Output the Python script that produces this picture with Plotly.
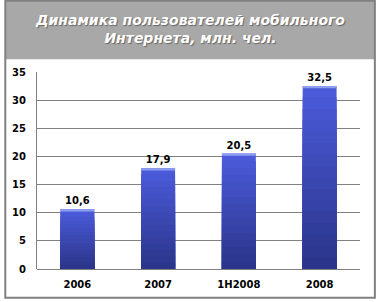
import plotly.graph_objects as go

categories = ["2006", "2007", "1H2008", "2008"]
values = [10.6, 17.9, 20.5, 32.5]
labels = ["10,6", "17,9", "20,5", "32,5"]
y_ticks = [0, 5, 10, 15, 20, 25, 30, 35]

TITLE = "Динамика пользователей мобильного<br>Интернета, млн. чел."

top_rgb = (76, 92, 220)
bot_rgb = (42, 52, 136)
N = 16

fig = go.Figure()
for k in range(N):
    t = (k + 0.5) / N
    c = tuple(int(round(top_rgb[i] + (bot_rgb[i] - top_rgb[i]) * t)) for i in range(3))
    frac = 1 - k / N
    fig.add_trace(go.Bar(
        x=categories,
        y=[v * frac for v in values],
        marker=dict(color="rgb(%d,%d,%d)" % c, line=dict(width=0)),
        text=labels if k == 0 else None,
        textposition="outside" if k == 0 else "none",
        textfont=dict(family="DejaVu Sans", size=10, color="#000000", weight="bold"),
        cliponaxis=False,
        hoverinfo="skip",
        showlegend=False,
    ))

# light highlight at the top edge of each bar
fig.add_trace(go.Bar(
    x=categories,
    y=[0.4 for v in values],
    base=[v - 0.4 for v in values],
    marker=dict(color="#8d9ef0", line=dict(width=0)),
    hoverinfo="skip",
    showlegend=False,
))

fig.update_layout(
    width=378, height=302,
    margin=dict(l=34, r=18, t=72, b=31),
    paper_bgcolor="white",
    plot_bgcolor="white",
    barmode="overlay",
    bargap=0.58,
    xaxis=dict(
        type="category",
        showgrid=False,
        showline=False,
        ticks="",
        tickfont=dict(family="DejaVu Sans", size=10, color="#000000", weight="bold"),
        ticklabelstandoff=8,
    ),
    yaxis=dict(
        range=[0, 35],
        tickvals=y_ticks,
        showgrid=True,
        gridcolor="#808080",
        gridwidth=1,
        showline=True,
        linecolor="#808080",
        linewidth=1,
        zeroline=True,
        zerolinecolor="#808080",
        zerolinewidth=1,
        ticks="",
        tickfont=dict(family="DejaVu Sans", size=10, color="#000000", weight="bold"),
        ticklabelstandoff=8,
    ),
    shapes=[
        # title box
        dict(type="rect", xref="paper", yref="paper",
             x0=-32/326, x1=341/326, y0=(271-59)/199, y1=(271-0)/199,
             fillcolor="#a8a8a8", line=dict(width=0), layer="below"),
        # outer frame
        dict(type="rect", xref="paper", yref="paper",
             x0=-32/326, x1=341/326, y0=(271-300)/199, y1=(271-0)/199,
             fillcolor="rgba(0,0,0,0)", line=dict(color="#808080", width=2), layer="above"),
    ],
    annotations=[
        dict(text=TITLE, xref="paper", yref="paper",
             x=(188-34)/326, y=(271-29)/199, xanchor="center", yanchor="middle",
             showarrow=False, align="center",
             font=dict(family="DejaVu Sans", size=14, color="white",
                       weight="bold", style="italic",
                       shadow="1px 1px 1px #666666")),
    ],
)

fig.write_html("out.html")
